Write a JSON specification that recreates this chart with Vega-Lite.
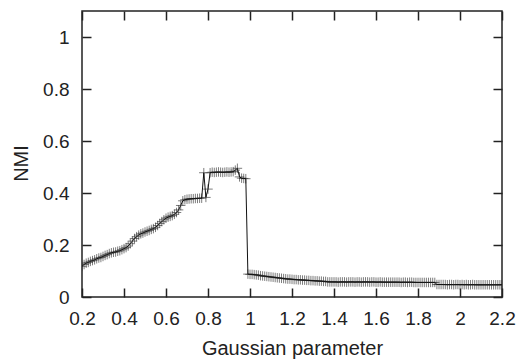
{
  "$schema": "https://vega.github.io/schema/vega-lite/v6.json",
  "width": 420,
  "height": 286,
  "autosize": {"type": "none"},
  "padding": {"left": 82, "top": 11, "right": 27, "bottom": 63},
  "background": "white",
  "config": {
    "view": {"stroke": "#222", "strokeWidth": 1.5},
    "font": "Liberation Sans",
    "axis": {
      "domain": false,
      "grid": false,
      "ticks": true,
      "tickSize": -9,
      "tickColor": "#222",
      "tickWidth": 1.5,
      "labelFlush": false,
      "labelOverlap": false,
      "labelFont": "Liberation Sans",
      "labelFontSize": 19,
      "labelColor": "#222",
      "titleFont": "Liberation Sans",
      "titleFontSize": 20,
      "titleFontWeight": "normal",
      "titleColor": "#222"
    }
  },
  "data": {"values": [
    {"x":0.20,"y":0.118},{"x":0.21,"y":0.125},{"x":0.22,"y":0.130},{"x":0.23,"y":0.133},{"x":0.24,"y":0.137},
    {"x":0.25,"y":0.140},{"x":0.26,"y":0.143},{"x":0.27,"y":0.147},{"x":0.28,"y":0.150},{"x":0.29,"y":0.152},
    {"x":0.30,"y":0.156},{"x":0.31,"y":0.160},{"x":0.32,"y":0.163},{"x":0.33,"y":0.167},{"x":0.34,"y":0.170},
    {"x":0.35,"y":0.172},{"x":0.36,"y":0.173},{"x":0.37,"y":0.176},{"x":0.38,"y":0.178},{"x":0.39,"y":0.182},
    {"x":0.40,"y":0.186},{"x":0.41,"y":0.190},{"x":0.42,"y":0.196},{"x":0.43,"y":0.205},{"x":0.44,"y":0.215},
    {"x":0.45,"y":0.225},{"x":0.46,"y":0.232},{"x":0.47,"y":0.238},{"x":0.48,"y":0.243},{"x":0.49,"y":0.246},
    {"x":0.50,"y":0.250},{"x":0.51,"y":0.253},{"x":0.52,"y":0.256},{"x":0.53,"y":0.260},{"x":0.54,"y":0.263},
    {"x":0.55,"y":0.268},{"x":0.56,"y":0.275},{"x":0.57,"y":0.283},{"x":0.58,"y":0.290},{"x":0.59,"y":0.297},
    {"x":0.60,"y":0.303},{"x":0.61,"y":0.307},{"x":0.62,"y":0.310},{"x":0.63,"y":0.313},{"x":0.64,"y":0.318},
    {"x":0.65,"y":0.325},{"x":0.66,"y":0.335},{"x":0.67,"y":0.352},{"x":0.68,"y":0.370},{"x":0.69,"y":0.374},
    {"x":0.70,"y":0.376},{"x":0.71,"y":0.377},{"x":0.72,"y":0.378},{"x":0.73,"y":0.378},{"x":0.74,"y":0.379},
    {"x":0.75,"y":0.379},{"x":0.76,"y":0.380},{"x":0.77,"y":0.380},{"x":0.78,"y":0.478},{"x":0.79,"y":0.383},
    {"x":0.80,"y":0.415},{"x":0.81,"y":0.478},{"x":0.82,"y":0.480},{"x":0.83,"y":0.479},{"x":0.84,"y":0.480},
    {"x":0.85,"y":0.481},{"x":0.86,"y":0.480},{"x":0.87,"y":0.479},{"x":0.88,"y":0.480},{"x":0.89,"y":0.481},
    {"x":0.90,"y":0.480},{"x":0.91,"y":0.481},{"x":0.92,"y":0.482},{"x":0.93,"y":0.488},{"x":0.94,"y":0.495},
    {"x":0.95,"y":0.462},{"x":0.96,"y":0.457},{"x":0.97,"y":0.456},{"x":0.98,"y":0.455},{"x":0.99,"y":0.088},
    {"x":1.00,"y":0.087},{"x":1.01,"y":0.087},{"x":1.02,"y":0.086},{"x":1.03,"y":0.085},{"x":1.04,"y":0.084},
    {"x":1.05,"y":0.082},{"x":1.06,"y":0.081},{"x":1.07,"y":0.080},{"x":1.08,"y":0.079},{"x":1.09,"y":0.078},
    {"x":1.10,"y":0.077},{"x":1.11,"y":0.076},{"x":1.12,"y":0.075},{"x":1.13,"y":0.074},{"x":1.14,"y":0.073},
    {"x":1.15,"y":0.072},{"x":1.16,"y":0.071},{"x":1.17,"y":0.070},{"x":1.18,"y":0.069},{"x":1.19,"y":0.069},
    {"x":1.20,"y":0.068},{"x":1.21,"y":0.067},{"x":1.22,"y":0.067},{"x":1.23,"y":0.066},{"x":1.24,"y":0.066},
    {"x":1.25,"y":0.065},{"x":1.26,"y":0.065},{"x":1.27,"y":0.064},{"x":1.28,"y":0.064},{"x":1.29,"y":0.063},
    {"x":1.30,"y":0.063},{"x":1.31,"y":0.062},{"x":1.32,"y":0.062},{"x":1.33,"y":0.061},{"x":1.34,"y":0.061},
    {"x":1.35,"y":0.060},{"x":1.36,"y":0.060},{"x":1.37,"y":0.058},{"x":1.38,"y":0.058},{"x":1.39,"y":0.058},
    {"x":1.40,"y":0.058},{"x":1.41,"y":0.058},{"x":1.42,"y":0.057},{"x":1.43,"y":0.058},{"x":1.44,"y":0.058},
    {"x":1.45,"y":0.058},{"x":1.46,"y":0.057},{"x":1.47,"y":0.058},{"x":1.48,"y":0.058},{"x":1.49,"y":0.058},
    {"x":1.50,"y":0.057},{"x":1.51,"y":0.058},{"x":1.52,"y":0.058},{"x":1.53,"y":0.057},{"x":1.54,"y":0.058},
    {"x":1.55,"y":0.058},{"x":1.56,"y":0.058},{"x":1.57,"y":0.057},{"x":1.58,"y":0.058},{"x":1.59,"y":0.058},
    {"x":1.60,"y":0.057},{"x":1.61,"y":0.057},{"x":1.62,"y":0.058},{"x":1.63,"y":0.057},{"x":1.64,"y":0.057},
    {"x":1.65,"y":0.057},{"x":1.66,"y":0.057},{"x":1.67,"y":0.057},{"x":1.68,"y":0.057},{"x":1.69,"y":0.057},
    {"x":1.70,"y":0.057},{"x":1.71,"y":0.057},{"x":1.72,"y":0.056},{"x":1.73,"y":0.057},{"x":1.74,"y":0.057},
    {"x":1.75,"y":0.056},{"x":1.76,"y":0.057},{"x":1.77,"y":0.057},{"x":1.78,"y":0.056},{"x":1.79,"y":0.056},
    {"x":1.80,"y":0.056},{"x":1.81,"y":0.056},{"x":1.82,"y":0.056},{"x":1.83,"y":0.056},{"x":1.84,"y":0.056},
    {"x":1.85,"y":0.056},{"x":1.86,"y":0.056},{"x":1.87,"y":0.056},{"x":1.88,"y":0.056},{"x":1.89,"y":0.048},
    {"x":1.90,"y":0.048},{"x":1.91,"y":0.048},{"x":1.92,"y":0.048},{"x":1.93,"y":0.048},{"x":1.94,"y":0.047},
    {"x":1.95,"y":0.048},{"x":1.96,"y":0.048},{"x":1.97,"y":0.047},{"x":1.98,"y":0.048},{"x":1.99,"y":0.048},
    {"x":2.00,"y":0.047},{"x":2.01,"y":0.048},{"x":2.02,"y":0.047},{"x":2.03,"y":0.048},{"x":2.04,"y":0.047},
    {"x":2.05,"y":0.047},{"x":2.06,"y":0.048},{"x":2.07,"y":0.047},{"x":2.08,"y":0.047},{"x":2.09,"y":0.047},
    {"x":2.10,"y":0.047},{"x":2.11,"y":0.047},{"x":2.12,"y":0.047},{"x":2.13,"y":0.047},{"x":2.14,"y":0.047},
    {"x":2.15,"y":0.047},{"x":2.16,"y":0.047},{"x":2.17,"y":0.047},{"x":2.18,"y":0.047},{"x":2.19,"y":0.047},
    {"x":2.20,"y":0.047}
  ]},
  "layer": [
    {
      "mark": {"type": "point", "shape": "M-1,0H1M0,-1V1", "filled": false,
               "stroke": "#333", "strokeWidth": 0.9, "size": 90, "opacity": 0.7, "clip": true},
      "encoding": {
        "x": {"field": "x", "type": "quantitative",
              "scale": {"domain": [0.2, 2.2], "nice": false, "zero": false},
              "axis": {"orient": "top", "labels": false, "title": null,
                       "values": [0.2,0.4,0.6,0.8,1,1.2,1.4,1.6,1.8,2,2.2]}},
        "y": {"field": "y", "type": "quantitative",
              "scale": {"domain": [0, 1.1], "nice": false, "zero": true},
              "axis": {"orient": "right", "labels": false, "title": null,
                       "values": [0,0.2,0.4,0.6,0.8,1]}}
      }
    },
    {
      "mark": {"type": "line", "color": "#111", "strokeWidth": 1, "clip": true},
      "encoding": {
        "x": {"field": "x", "type": "quantitative",
              "axis": {"orient": "bottom", "title": "Gaussian parameter",
                       "values": [0.2,0.4,0.6,0.8,1,1.2,1.4,1.6,1.8,2,2.2],
                       "labelExpr": "format(datum.value, '.1~f')",
                       "labelPadding": 21,
                       "titleY": 57, "titleBaseline": "alphabetic"}},
        "y": {"field": "y", "type": "quantitative",
              "axis": {"orient": "left", "title": "NMI",
                       "values": [0,0.2,0.4,0.6,0.8,1],
                       "labelExpr": "format(datum.value, '.1~f')",
                       "labelPadding": 22,
                       "titleAngle": -90, "titleX": -55, "titleY": 152,
                       "titleAlign": "center", "titleBaseline": "alphabetic"}}
      }
    }
  ],
  "resolve": {"axis": {"x": "independent", "y": "independent"}}
}
